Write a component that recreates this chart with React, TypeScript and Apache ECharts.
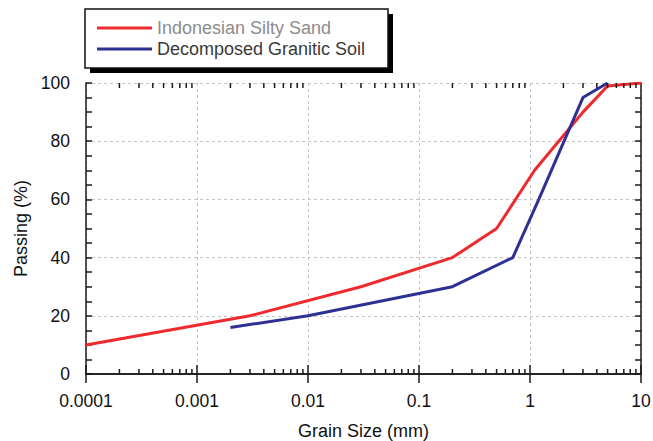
import React, { useEffect, useRef } from "react";
import * as echarts from "echarts";

const FONT = '"Liberation Sans", Arial, Helvetica, sans-serif';

const seriesNames = ["Indonesian Silty Sand", "Decomposed Granitic Soil"];
const sandX = [0.0001, 0.003, 0.03, 0.2, 0.5, 1.1, 3, 5, 10];
const sandY = [10, 20, 30, 40, 50, 70, 90, 99, 100];
const soilX = [0.002, 0.01, 0.2, 0.7, 1.2, 3, 5];
const soilY = [16, 20, 30, 40, 60, 95, 100];
const decades = [0.0001, 0.001, 0.01, 0.1, 1];
const minorMultipliers = [2, 3, 4, 5, 6, 7, 8, 9];

export default function App() {
  const ref = useRef<HTMLDivElement>(null);
  useEffect(() => {
    document.body.style.margin = "0";
    if (!ref.current) return;
    const chart = echarts.init(ref.current, undefined, { renderer: "svg" });
    const minorX: number[][] = [];
    decades.forEach((d) => minorMultipliers.forEach((m) => minorX.push([parseFloat((d * m).toPrecision(6))])));
    const fmt = (v: number) => String(parseFloat(Number(v).toPrecision(4)));
    const axisLineStyle = { color: "#1a1a1a", width: 1.5 };
    const split = { show: true, lineStyle: { type: [3, 3] as any, color: "#c4c4c4", width: 1 } };
    const option: any = {
      animation: false,
      textStyle: { fontFamily: FONT },
      grid: { left: 86, right: 12, top: 83, bottom: 67, outerBoundsMode: "none", containLabel: false },
      graphic: [
        { type: "rect", z: 0, shape: { x: 90, y: 14, width: 303, height: 59 }, style: { fill: "#000" } },
        { type: "rect", z: 1, shape: { x: 85, y: 9, width: 303, height: 59 }, style: { fill: "#fff", stroke: "#111", lineWidth: 1.5 } },
      ],
      legend: {
        orient: "vertical",
        left: 92,
        top: 14,
        itemWidth: 55,
        itemHeight: 3,
        itemGap: 3,
        icon: "rect",
        z: 5,
        data: [
          { name: seriesNames[0], textStyle: { color: "#8c8c8c" } },
          { name: seriesNames[1], textStyle: { color: "#3a3a3a" } },
        ],
        textStyle: { fontSize: 18, lineHeight: 18, fontFamily: FONT },
      },
      xAxis: [
        {
          type: "log",
          logBase: 10,
          min: 0.0001,
          max: 10,
          position: "bottom",
          axisLine: { show: true, lineStyle: axisLineStyle },
          axisTick: { show: true, inside: true, length: 9, lineStyle: axisLineStyle },
          axisLabel: { formatter: fmt, margin: 18, fontSize: 17.5, color: "#111", fontFamily: FONT },
          splitLine: split,
          name: "Grain Size (mm)",
          nameLocation: "middle",
          nameGap: 48,
          nameTextStyle: { fontSize: 18, color: "#111", fontFamily: FONT },
        },
        {
          type: "log",
          logBase: 10,
          min: 0.0001,
          max: 10,
          position: "top",
          axisLine: { show: true, lineStyle: axisLineStyle },
          axisTick: { show: true, inside: true, length: 9, lineStyle: axisLineStyle },
          axisLabel: { show: false },
          splitLine: { show: false },
        },
      ],
      yAxis: [
        {
          type: "value",
          min: 0,
          max: 100,
          interval: 20,
          position: "left",
          axisLine: { show: true, lineStyle: axisLineStyle },
          axisTick: { show: true, inside: true, length: 6, lineStyle: axisLineStyle },
          minorTick: { show: true, splitNumber: 4, length: 6, lineStyle: axisLineStyle },
          axisLabel: { margin: 16, fontSize: 17.5, color: "#111", fontFamily: FONT },
          splitLine: split,
          name: "Passing (%)",
          nameLocation: "middle",
          nameGap: 56,
          nameTextStyle: { fontSize: 18, color: "#111", fontFamily: FONT },
        },
        {
          type: "value",
          min: 0,
          max: 100,
          interval: 20,
          position: "right",
          axisLine: { show: true, lineStyle: axisLineStyle },
          axisTick: { show: true, inside: true, length: 6, lineStyle: axisLineStyle },
          minorTick: { show: true, splitNumber: 4, length: 6, lineStyle: axisLineStyle },
          axisLabel: { show: false },
          splitLine: { show: false },
        },
      ],
      series: [
        {
          name: seriesNames[0],
          type: "line",
          data: sandX.map((x, i) => [x, sandY[i]]),
          showSymbol: false,
          color: "#ee2a2e",
          lineStyle: { width: 3, color: "#ee2a2e" },
          z: 3,
        },
        {
          name: seriesNames[1],
          type: "line",
          data: soilX.map((x, i) => [x, soilY[i]]),
          showSymbol: false,
          color: "#2e3192",
          lineStyle: { width: 3, color: "#2e3192" },
          z: 4,
        },
        {
          name: "minorTicks",
          type: "custom",
          silent: true,
          clip: false,
          z: 6,
          data: minorX,
          renderItem: (_p: any, api: any) => {
            const v = api.value(0);
            const b = api.coord([v, 0]);
            const t = api.coord([v, 100]);
            const st = { stroke: "#1a1a1a", lineWidth: 1.5 };
            return {
              type: "group",
              children: [
                { type: "line", shape: { x1: b[0], y1: b[1], x2: b[0], y2: b[1] - 5 }, style: st },
                { type: "line", shape: { x1: t[0], y1: t[1], x2: t[0], y2: t[1] + 5 }, style: st },
              ],
            };
          },
        },
      ],
    };
    chart.setOption(option);
    return () => chart.dispose();
  }, []);
  return <div ref={ref} style={{ width: 653, height: 441 }} />;
}
